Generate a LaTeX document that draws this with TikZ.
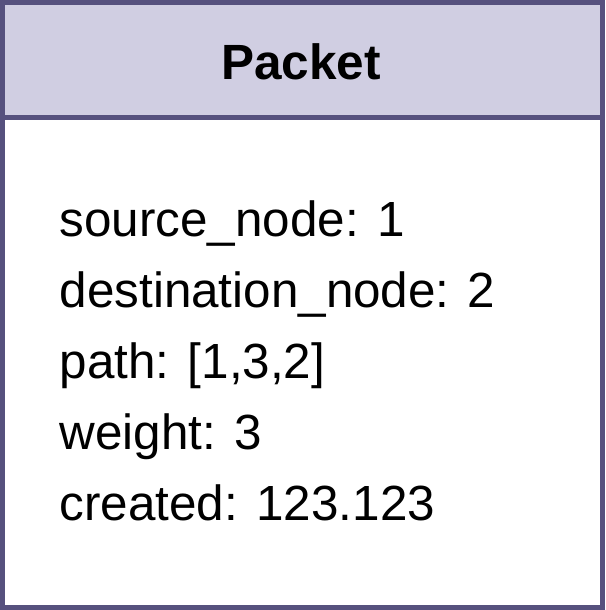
\documentclass[tikz,border=0pt]{standalone}
\usepackage{fontspec}
\setmainfont{Liberation Sans}
\definecolor{hdrfill}{HTML}{D0CEE2}
\definecolor{hdrline}{HTML}{56517E}
\begin{document}
\begin{tikzpicture}[x=1pt,y=1pt,
  frame/.style={draw=hdrline,line width=5pt},
  titletext/.style={anchor=base,inner sep=0pt,font=\fontsize{49.5}{58}\selectfont\bfseries},
  fieldtext/.style={anchor=base west,inner sep=0pt,font=\fontsize{49.4}{58}\selectfont}]
\useasboundingbox (0,0) rectangle (605,-610);
\fill[hdrfill] (0,0) rectangle (605,-117);
\draw[frame] (0,-117) -- (605,-117);
\draw[frame] (2.5,-2.5) rectangle (602.5,-607.5);
\node[titletext] (title) at (301,-79) {Packet};
\node[fieldtext] (f1) at (59.5,-236) {source\_node: 1};
\node[fieldtext] (f2) at (59.5,-307) {destination\_node: 2};
\node[fieldtext] (f3) at (59.5,-378) {path: [1,3,2]};
\node[fieldtext] (f4) at (59.5,-449) {weight: 3};
\node[fieldtext] (f5) at (59.5,-520) {created: 123.123};
\end{tikzpicture}
\end{document}
